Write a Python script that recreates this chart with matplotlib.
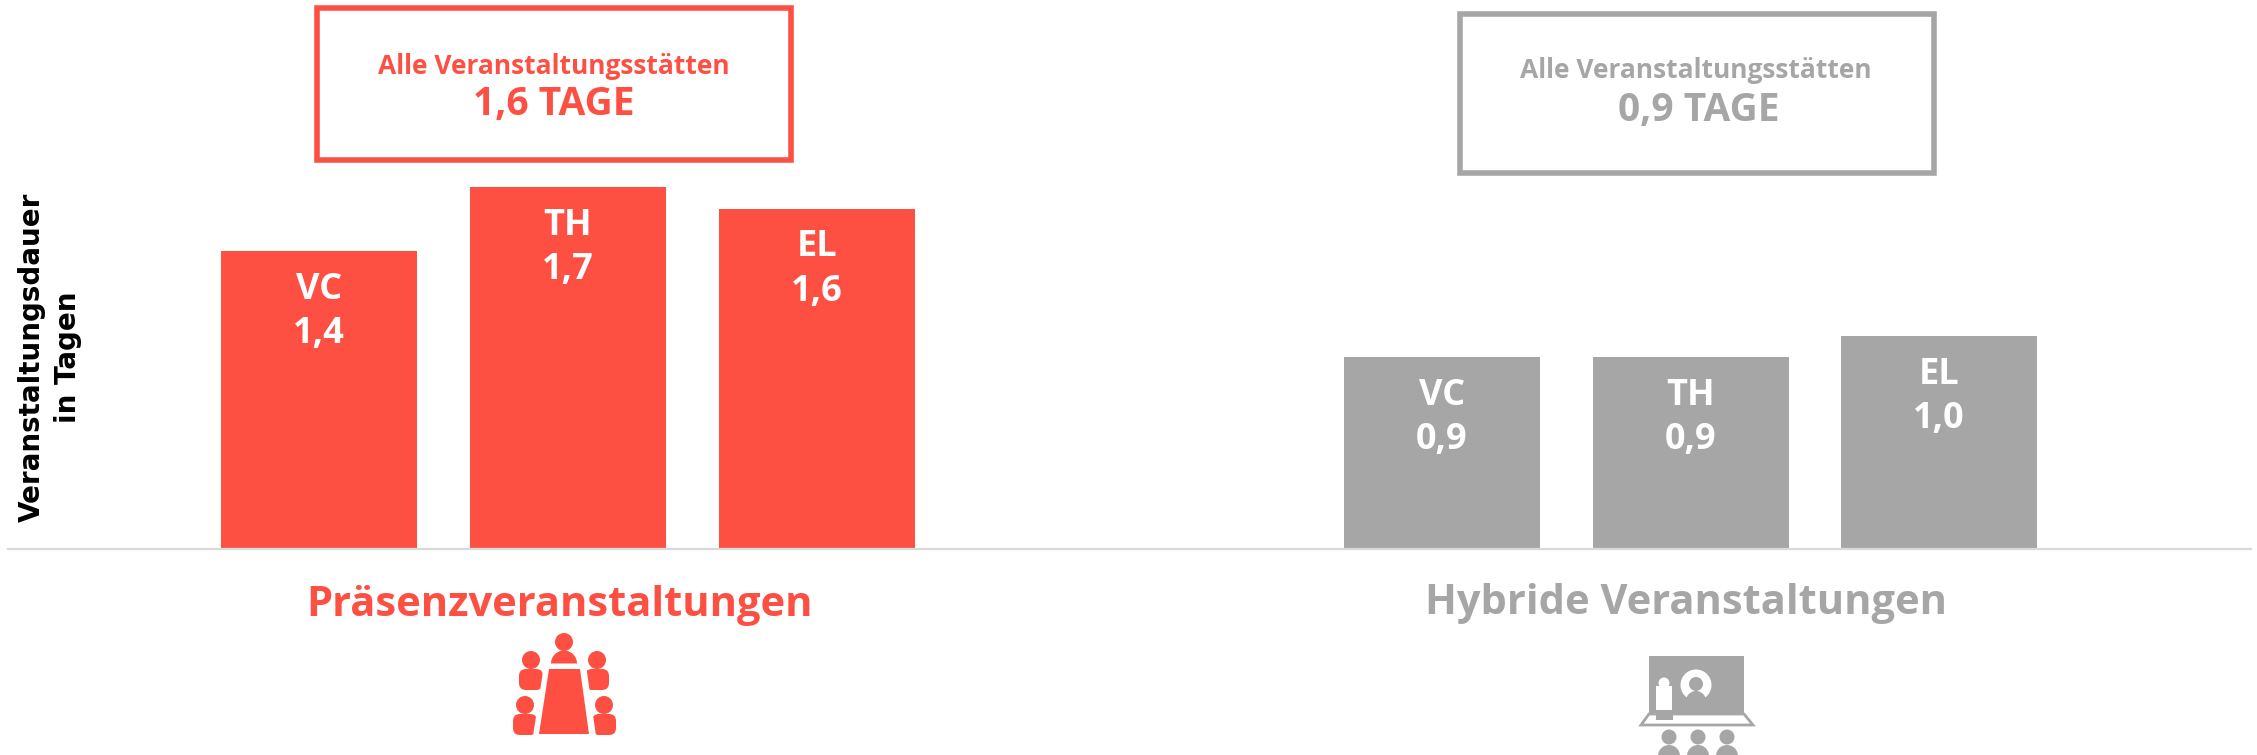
import matplotlib

matplotlib.use("Agg")
import matplotlib.pyplot as plt
from matplotlib.patches import Circle, FancyBboxPatch, Polygon, Rectangle, Wedge

categories = ["VC", "TH", "EL"]
praesenz_values = [1.4, 1.7, 1.6]
hybrid_values = [0.9, 0.9, 1.0]
praesenz_title = "Präsenzveranstaltungen"
hybrid_title = "Hybride Veranstaltungen"
box_label = "Alle Veranstaltungsstätten"
praesenz_total = "1,6 TAGE"
hybrid_total = "0,9 TAGE"
y_label = "Veranstaltungsdauer\nin Tagen"

RED = "#FD5043"
GRAY = "#A6A6A6"
W, H = 2257, 755
BASE = 548.5
PX_PER_DAY = 212.5
FONT = "Open Sans"


def fmt(v):
    return f"{v:.1f}".replace(".", ",")


def draw_bars(ax, xs, values, color):
    ax.bar(xs, values, width=196, color=color, linewidth=0, zorder=2)
    for x, cat, v in zip(xs, categories, values):
        for text, off in ((cat, 39), (fmt(v), 83)):
            ax.annotate(
                text, (x, v), xytext=(0, -off * 0.72), textcoords="offset points",
                ha="center", va="center", color="white", fontsize=26,
                fontweight="bold", family=FONT,
            )


def person(ov, cx, head_y, r, body_w, body_h, color):
    # head and rounded torso of one icon figure
    ov.add_patch(Circle((cx, head_y), r, fc=color, ec="none"))
    top = head_y + r
    x0 = cx - body_w / 2
    ov.add_patch(
        FancyBboxPatch(
            (x0 + 4, top + 4), body_w - 8, body_h - 8,
            boxstyle="round,pad=4,rounding_size=7", fc=color, ec="none",
        )
    )


def meeting_icon(ov):
    ov.add_patch(Circle((564, 642), 9, fc=RED, ec="none"))
    ov.add_patch(Wedge((564, 663.5), 13, 180, 360, fc=RED, ec="none"))
    for cx, hy in ((531, 660), (597, 660), (525, 705), (604, 705)):
        person(ov, cx, hy, 9, 24, 21, RED)
    # white slants between table and figures
    ov.add_patch(Polygon([(544, 665), (550, 665), (539, 736), (533, 736)], fc="white", ec="none"))
    ov.add_patch(Polygon([(580, 665), (586, 665), (596, 736), (590, 736)], fc="white", ec="none"))
    ov.add_patch(Polygon([(549, 669), (580, 669), (589, 734), (539, 734)], fc=RED, ec="none"))


def hybrid_icon(ov):
    ov.add_patch(Rectangle((1649, 656), 95, 57, fc=GRAY, ec="none"))
    ov.add_patch(
        Polygon(
            [(1649, 714), (1744, 714), (1753, 725), (1641, 725)],
            closed=True, fc="white", ec=GRAY, lw=2.0,
        )
    )
    ov.add_patch(Rectangle((1656, 686), 16, 24, fc="white", ec="none"))
    ov.add_patch(Circle((1664, 683), 5.5, fc="white", ec="none"))
    ov.add_patch(Circle((1664, 692), 8, fc="white", ec="none"))
    ov.add_patch(Rectangle((1656, 714), 17, 6, fc=GRAY, ec="none"))
    ov.add_patch(Circle((1696, 685), 15.5, fc="white", ec="none"))
    ov.add_patch(Circle((1696, 684), 7, fc=GRAY, ec="none"))
    ov.add_patch(Wedge((1696, 701), 10, 180, 360, fc=GRAY, ec="none"))
    for cx in (1669, 1698, 1727):
        ov.add_patch(Circle((cx, 737), 7.5, fc=GRAY, ec="none"))
        ov.add_patch(Wedge((cx, 756), 11, 180, 360, fc=GRAY, ec="none"))


def main():
    fig = plt.figure(figsize=(W / 100, H / 100), dpi=100, facecolor="white")

    ax = fig.add_axes([0, 0, 1, 1])
    ax.set_xlim(0, W)
    ax.set_ylim(-(H - BASE) / PX_PER_DAY, BASE / PX_PER_DAY)
    ax.axis("off")

    draw_bars(ax, [319, 568, 817], praesenz_values, RED)
    draw_bars(ax, [1442, 1691, 1939], hybrid_values, GRAY)

    # overlay in pixel coordinates for frames, titles and icons
    ov = fig.add_axes([0, 0, 1, 1])
    ov.set_xlim(0, W)
    ov.set_ylim(H, 0)
    ov.axis("off")
    ov.patch.set_alpha(0)

    ov.plot([8, 2251], [BASE, BASE], color="#D9D9D9", lw=1.6, zorder=1)

    ov.add_patch(Rectangle((317, 8), 474, 152, fc="none", ec=RED, lw=4))
    ov.add_patch(Rectangle((1459.5, 14), 474, 159, fc="none", ec=GRAY, lw=4))

    ov.text(554, 66, box_label, color=RED, fontsize=19, fontweight="bold",
            ha="center", va="center", family=FONT)
    ov.text(554, 104, praesenz_total, color=RED, fontsize=28, fontweight="bold",
            ha="center", va="center", family=FONT)
    ov.text(1696, 71, box_label, color=GRAY, fontsize=19, fontweight="bold",
            ha="center", va="center", family=FONT)
    ov.text(1699, 111, hybrid_total, color=GRAY, fontsize=28, fontweight="bold",
            ha="center", va="center", family=FONT)

    ov.text(560, 605, praesenz_title, color=RED, fontsize=30, fontweight="bold",
            ha="center", va="center", family=FONT)
    ov.text(1686, 603, hybrid_title, color=GRAY, fontsize=30, fontweight="bold",
            ha="center", va="center", family=FONT)

    ov.text(50, 357, y_label, color="black", fontsize=20, fontweight="bold",
            rotation=90, ha="center", va="center", ma="center", linespacing=1.4,
            family="DejaVu Sans")

    meeting_icon(ov)
    hybrid_icon(ov)

    fig.savefig("out.png", dpi=100)
    plt.close(fig)


if __name__ == "__main__":
    main()
